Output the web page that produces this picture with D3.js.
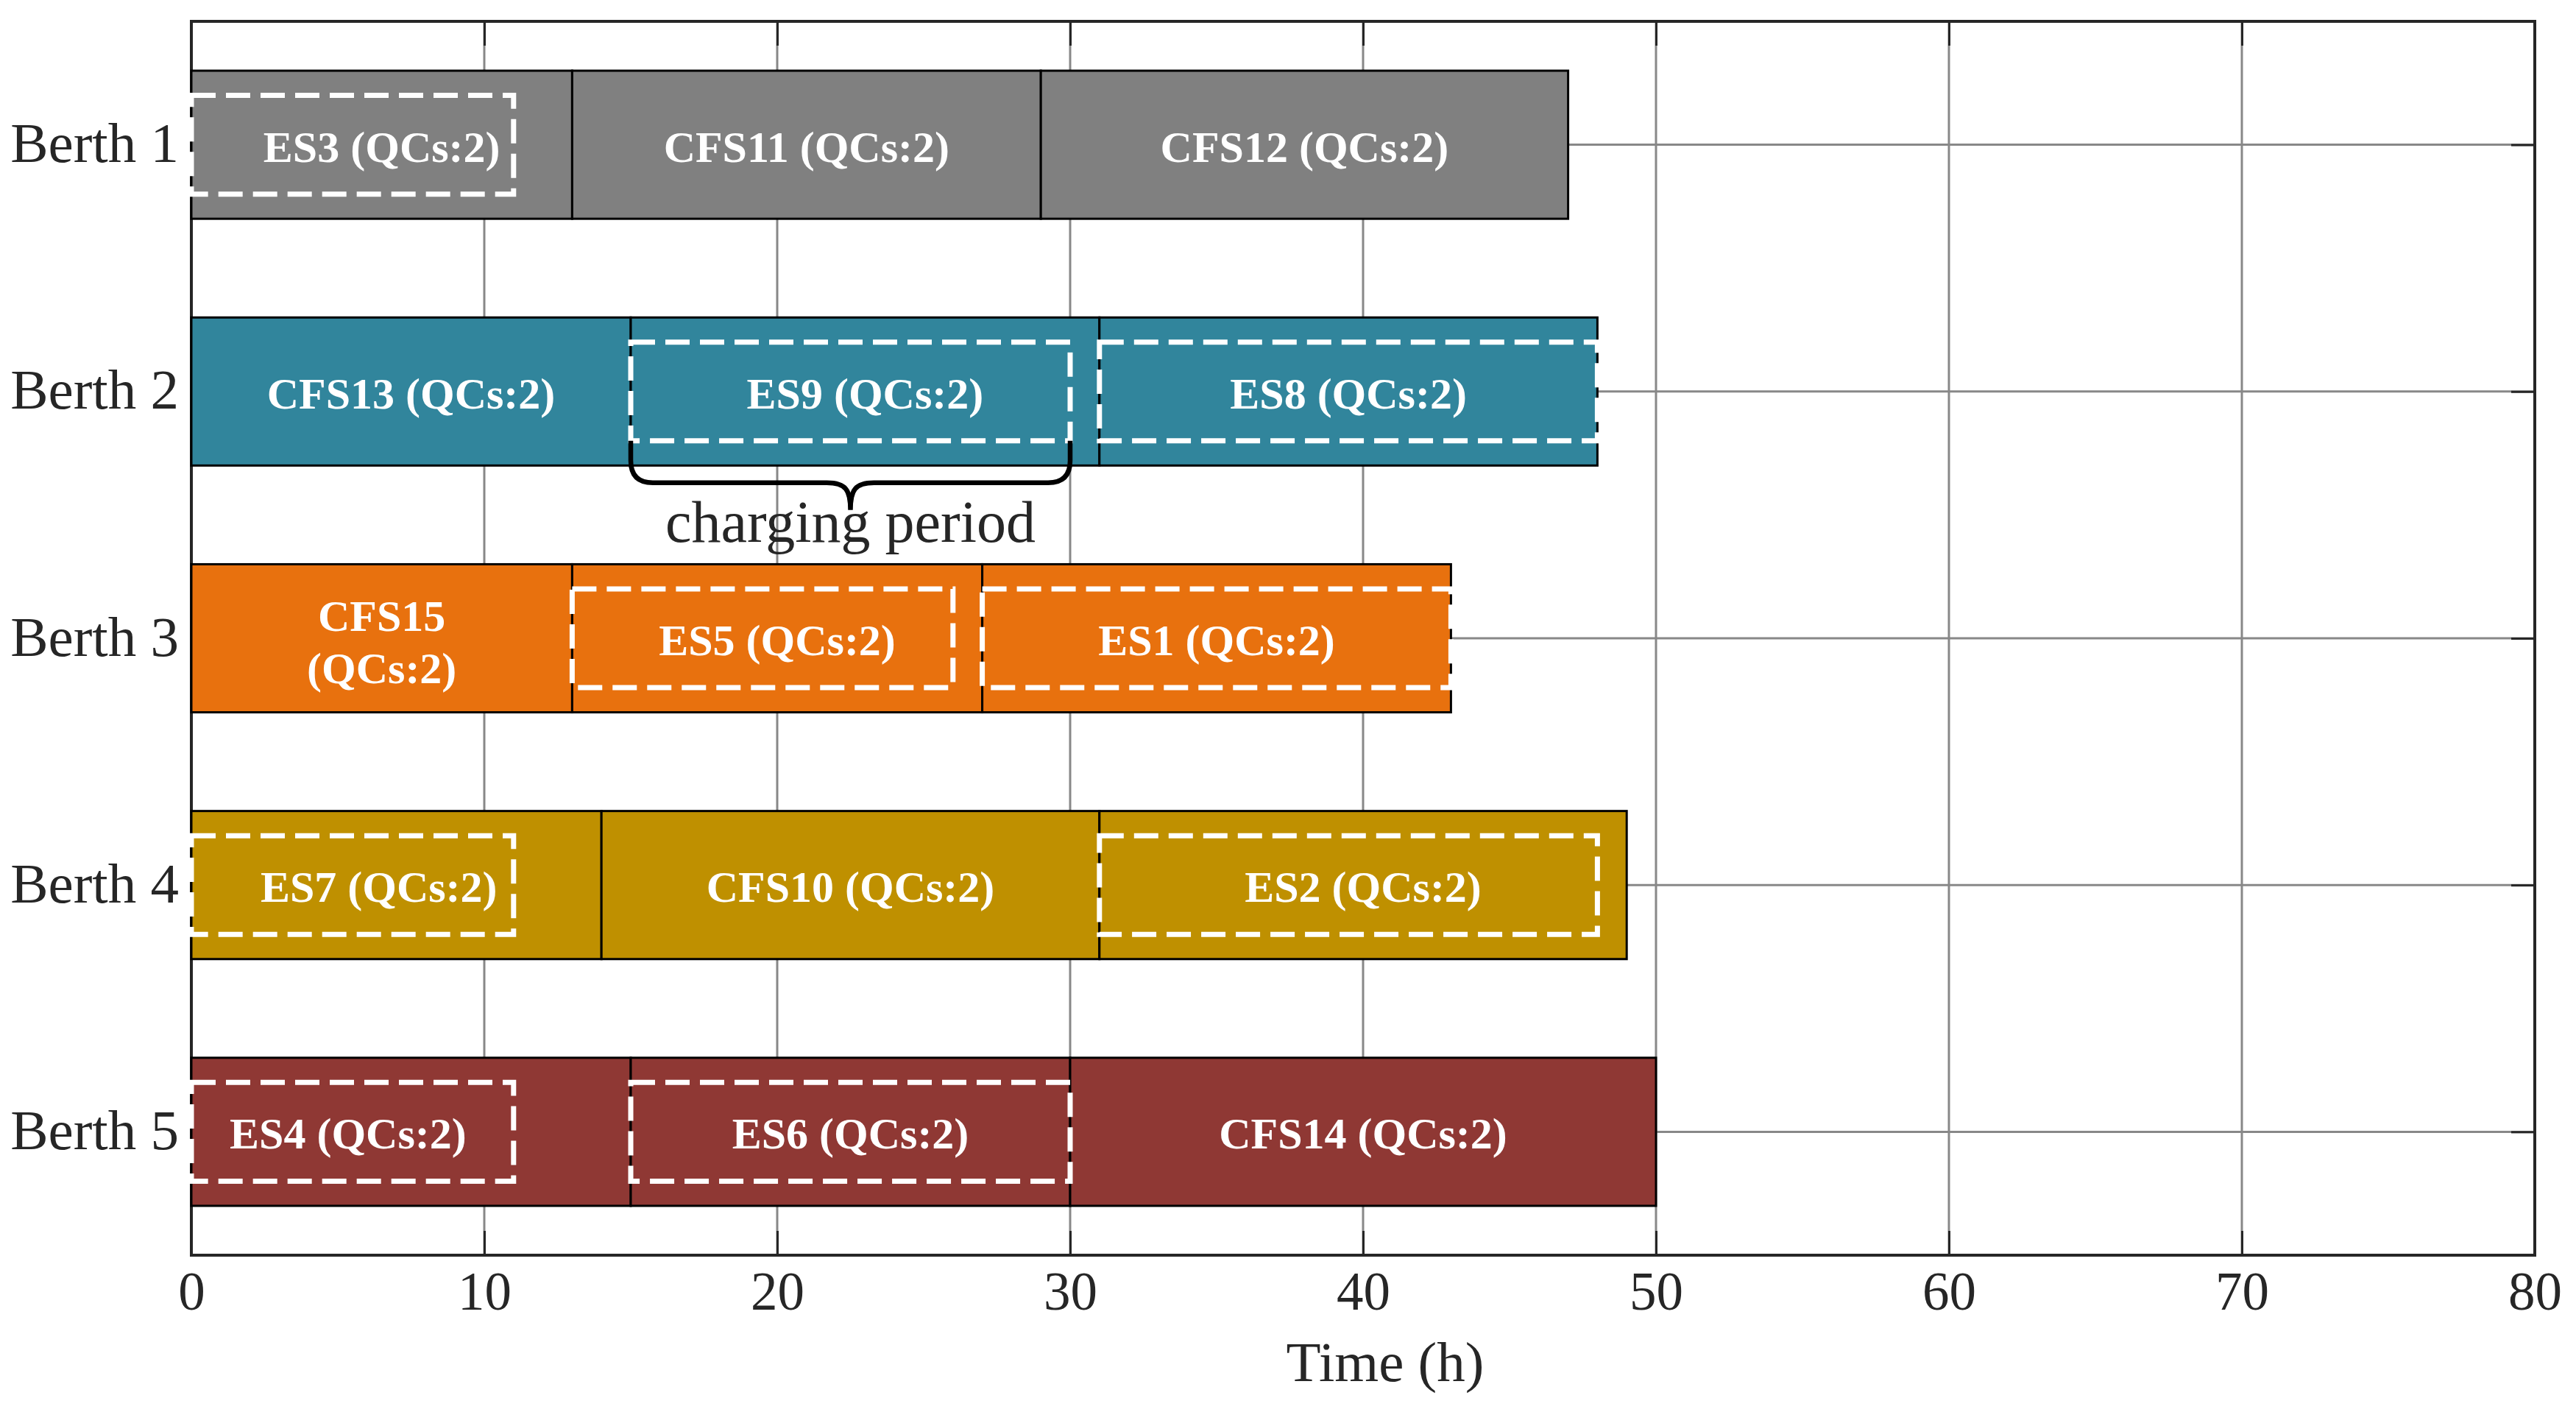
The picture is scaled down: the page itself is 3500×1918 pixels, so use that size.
<!DOCTYPE html>
<html>
<head>
<meta charset="utf-8">
<script src="https://cdn.jsdelivr.net/npm/d3@7"></script>
<style>
  body { margin: 0; background: #fff; }
  text { font-family: "Liberation Serif", "DejaVu Serif", serif; }
</style>
</head>
<body>
<div id="chart"></div>
<script>
// berth names (y categories) and x ticks
var berths = ["Berth 1", "Berth 2", "Berth 3", "Berth 4", "Berth 5"];
var xTicks = [0, 10, 20, 30, 40, 50, 60, 70, 80];
var berthColors = ["#808080", "#31859C", "#E8710E", "#BF9000", "#8F3834"];

// vessel tasks: berth index, start and end time (h), label and label centre (h)
var taskBerth = [1, 1, 1, 2, 2, 2, 3, 3, 3, 4, 4, 4, 5, 5, 5];
var taskStart = [0, 13, 29, 0, 15, 31, 0, 13, 27, 0, 14, 31, 0, 15, 30];
var taskEnd = [13, 29, 47, 15, 31, 48, 13, 27, 43, 14, 31, 49, 15, 30, 50];
var taskLabel = [
  "ES3 (QCs:2)", "CFS11 (QCs:2)", "CFS12 (QCs:2)",
  "CFS13 (QCs:2)", "ES9 (QCs:2)", "ES8 (QCs:2)",
  "CFS15|(QCs:2)", "ES5 (QCs:2)", "ES1 (QCs:2)",
  "ES7 (QCs:2)", "CFS10 (QCs:2)", "ES2 (QCs:2)",
  "ES4 (QCs:2)", "ES6 (QCs:2)", "CFS14 (QCs:2)"
];
var taskLabelX = [6.5, 21, 38, 7.5, 23, 39.5, 6.5, 20, 35, 6.4, 22.5, 40, 5.35, 22.5, 40];

// charging periods (dashed boxes)
var chargeBerth = [1, 2, 2, 3, 3, 4, 4, 5, 5];
var chargeStart = [0, 15, 31, 13, 27, 0, 31, 0, 15];
var chargeEnd = [11, 30, 48, 26, 43, 11, 48, 11, 30];

// annotated charging period (brace)
var braceBerth = 2;
var braceStart = 15;
var braceEnd = 30;

var svgWidth = 3500;
var svgHeight = 1918;
var margin = { top: 29, right: 56, bottom: 213, left: 260 };
var width = svgWidth - margin.left - margin.right;
var height = svgHeight - margin.top - margin.bottom;

var svg = d3.select("#chart").append("svg")
  .attr("width", svgWidth)
  .attr("height", svgHeight);

var chartGroup = svg.append("g")
  .attr("transform", `translate(${margin.left}, ${margin.top})`);

var xScale = d3.scaleLinear().domain([0, 80]).range([0, width]);
var yScale = d3.scaleLinear().domain([0.5, 5.5]).range([0, height]);
var unit = yScale(1) - yScale(0);
var axisColor = "#262626";

// grid lines
chartGroup.append("g").selectAll("line")
  .data(xTicks.slice(1, -1))
  .enter().append("line")
  .attr("x1", d => xScale(d)).attr("x2", d => xScale(d))
  .attr("y1", 0).attr("y2", height)
  .attr("stroke", "#888").attr("stroke-width", 3);

chartGroup.append("g").selectAll("line")
  .data(d3.range(1, berths.length + 1))
  .enter().append("line")
  .attr("x1", 0).attr("x2", width)
  .attr("y1", d => yScale(d)).attr("y2", d => yScale(d))
  .attr("stroke", "#888").attr("stroke-width", 3);

// axes (ticks pointing inward)
var bottomAxis = d3.axisBottom(xScale).tickValues(xTicks).tickSizeInner(-33).tickSizeOuter(0);
var xAxis = chartGroup.append("g")
  .attr("transform", `translate(0, ${height})`)
  .call(bottomAxis);
xAxis.selectAll("text")
  .attr("y", 74).attr("dy", 0)
  .style("font-size", "73px").attr("fill", axisColor);

var topAxis = d3.axisTop(xScale).tickValues(xTicks).tickSizeInner(-33).tickSizeOuter(0).tickFormat("");
var xAxisTop = chartGroup.append("g").call(topAxis);

var rightAxis = d3.axisRight(yScale).tickValues(d3.range(1, 6)).tickSizeInner(-32).tickSizeOuter(0).tickFormat("");
var yAxisRight = chartGroup.append("g")
  .attr("transform", `translate(${width}, 0)`)
  .call(rightAxis);

var leftAxis = d3.axisLeft(yScale).tickValues(d3.range(1, 6)).tickSize(0).tickPadding(17)
  .tickFormat(d => berths[d - 1]);
var yAxis = chartGroup.append("g").call(leftAxis);
yAxis.selectAll("text")
  .attr("dy", 23)
  .style("font-size", "77px").attr("fill", axisColor);

[xAxis, xAxisTop, yAxisRight, yAxis].forEach(function (a) {
  a.select(".domain").remove();
  a.selectAll(".tick line").attr("stroke", axisColor).attr("stroke-width", 3);
});

// frame
chartGroup.append("rect")
  .attr("x", 0).attr("y", 0)
  .attr("width", width).attr("height", height)
  .attr("fill", "none")
  .attr("stroke", axisColor).attr("stroke-width", 4);

// task bars
var tasks = taskBerth.map((b, i) => ({
  berth: b, start: taskStart[i], end: taskEnd[i], label: taskLabel[i], lx: taskLabelX[i]
}));

chartGroup.append("g").selectAll("rect")
  .data(tasks)
  .enter().append("rect")
  .attr("x", d => xScale(d.start))
  .attr("y", d => yScale(d.berth - 0.3))
  .attr("width", d => xScale(d.end) - xScale(d.start))
  .attr("height", 0.6 * unit)
  .attr("fill", d => berthColors[d.berth - 1])
  .attr("stroke", "#000").attr("stroke-width", 3);

// charging boxes
var charges = chargeBerth.map((b, i) => ({ berth: b, start: chargeStart[i], end: chargeEnd[i] }));

chartGroup.append("g").selectAll("rect")
  .data(charges)
  .enter().append("rect")
  .attr("x", d => xScale(d.start))
  .attr("y", d => yScale(d.berth - 0.2))
  .attr("width", d => xScale(d.end) - xScale(d.start))
  .attr("height", 0.4 * unit)
  .attr("fill", "none")
  .attr("stroke", "#fff").attr("stroke-width", 7)
  .attr("stroke-dasharray", "33,14");

// task labels
var labels = chartGroup.append("g").selectAll("text")
  .data(tasks)
  .enter().append("text")
  .attr("x", d => xScale(d.lx))
  .attr("y", d => yScale(d.berth))
  .attr("text-anchor", "middle")
  .attr("fill", "#fff")
  .style("font-size", "60px")
  .style("font-weight", "bold");

labels.each(function (d) {
  var lines = d.label.split("|");
  var t = d3.select(this);
  if (lines.length === 1) {
    t.append("tspan").attr("dy", 23).text(lines[0]);
  } else {
    t.append("tspan").attr("x", xScale(d.lx)).attr("dy", -10).text(lines[0]);
    t.append("tspan").attr("x", xScale(d.lx)).attr("dy", 71).text(lines[1]);
  }
});

// brace under the charging period
var bx1 = xScale(braceStart);
var bx2 = xScale(braceEnd);
var bxm = xScale((braceStart + braceEnd) / 2);
var byTop = yScale(braceBerth + 0.2);
var byH = yScale(braceBerth + 0.37);
var byTip = yScale(braceBerth + 0.48);
var r = 30;

var brace = d3.path();
brace.moveTo(bx1, byTop);
brace.lineTo(bx1, byH - r);
brace.quadraticCurveTo(bx1, byH, bx1 + r, byH);
brace.lineTo(bxm - 32, byH);
brace.bezierCurveTo(bxm - 6, byH, bxm, byH + 10, bxm, byTip);
brace.bezierCurveTo(bxm, byH + 10, bxm + 6, byH, bxm + 32, byH);
brace.lineTo(bx2 - r, byH);
brace.quadraticCurveTo(bx2, byH, bx2, byH - r);
brace.lineTo(bx2, byTop);

chartGroup.append("path")
  .attr("d", brace.toString())
  .attr("fill", "none")
  .attr("stroke", "#000")
  .attr("stroke-width", 6.5);

chartGroup.append("text")
  .attr("x", bxm)
  .attr("y", yScale(braceBerth + 0.61))
  .attr("text-anchor", "middle")
  .attr("fill", axisColor)
  .style("font-size", "80px")
  .text("charging period");

// x axis title
chartGroup.append("text")
  .attr("x", width / 2 + 30)
  .attr("y", height + 171)
  .attr("text-anchor", "middle")
  .attr("fill", axisColor)
  .style("font-size", "77px")
  .text("Time (h)");
</script>
</body>
</html>
